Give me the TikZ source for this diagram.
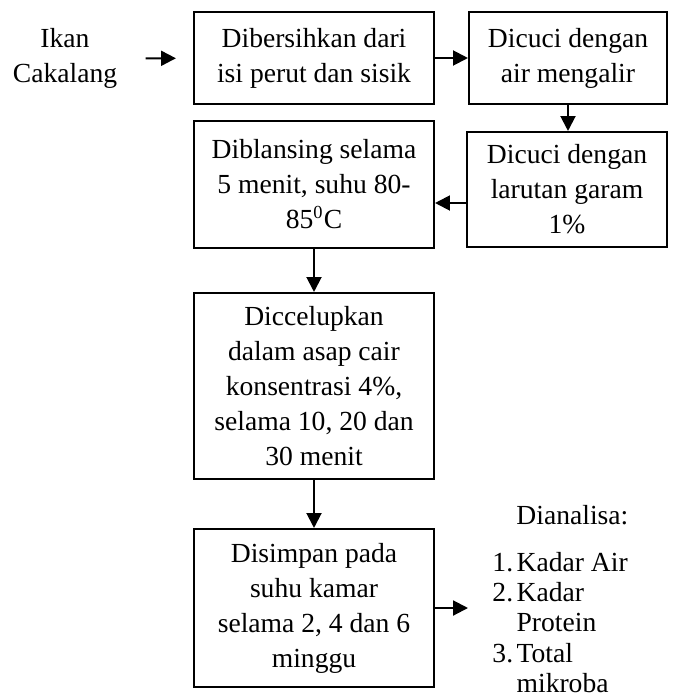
\documentclass[tikz,border=0pt]{standalone}
\usepackage{fontspec}
\setmainfont{Liberation Serif}
\usetikzlibrary{arrows.meta}
\newlength\pix
\setlength\pix{0.4348pt}

\begin{document}
\begin{tikzpicture}[x=1\pix,y=-1\pix]
		\tikzset{
			box/.style ={
				rectangle, %矩形节点
				minimum width =240\pix, %最小宽度
				inner sep=3pt, %文字和边框的距离
				draw=black, %边框颜色
				line width=0.9pt,
				align=center,
				font=\fontsize{12}{15.2}\selectfont
			},
			txt/.style ={
				inner sep=0pt,
				align=center,
				font=\fontsize{12}{15.2}\selectfont
			},
			jt/.style ={
				-{Triangle[length=6.5pt,width=6.5pt]},
				line width=0.9pt
			}
		}
		\useasboundingbox (0,0) rectangle (673,699);
		\node[txt] (0) at(65,58.5){Ikan\\Cakalang};
		\node[box,minimum height=92\pix] (1) at(314,58){Dibersihkan dari\\isi perut dan sisik};
		\node[box,minimum width=198\pix,minimum height=92\pix] (2) at(568,58){Dicuci dengan\\air mengalir};
		\node[box,minimum width=200\pix,minimum height=115\pix] (3) at(567,189.5){Dicuci dengan\\larutan garam\\1\%};
		\node[box,minimum height=127\pix] (4) at(314,184.5){Diblansing selama\\5 menit, suhu 80-\\85\textsuperscript{0}C};
		\node[box,minimum height=186\pix] (5) at(314,386){Diccelupkan\\dalam asap cair\\konsentrasi 4\%,\\selama 10, 20 dan\\30 menit};
		\node[box,minimum height=158\pix] (6) at(314,608){Disimpan pada\\suhu kamar\\selama 2, 4 dan 6\\minggu};
		\node[txt,anchor=base west] (7) at(516,524){Dianalisa:};
		\node[txt,anchor=base west,font=\fontsize{12}{13.2}\selectfont] (8) at(492,571){%
			\begin{tabular}[t]{@{}l@{\hspace{1.5pt}}l@{}}
				1. & Kadar Air\\
				2. & Kadar\\
				   & Protein\\
				3. & Total\\
				   & mikroba
			\end{tabular}};
		\draw[jt,shorten <=28\pix,shorten >=17\pix] (0)--(1);
		\draw[jt] (1)--(2);
		\draw[jt] (2.south)--(2.south |- 3.north);
		\draw[jt] ([yshift=-13.5\pix]3.west)--([yshift=-13.5\pix]3.west -| 4.east);
		\draw[jt] (4)--(5);
		\draw[jt] (5)--(6);
		\draw[jt,shorten >=24\pix] (6.east)--(6.east -| 8.west);
	\end{tikzpicture}
\end{document}
